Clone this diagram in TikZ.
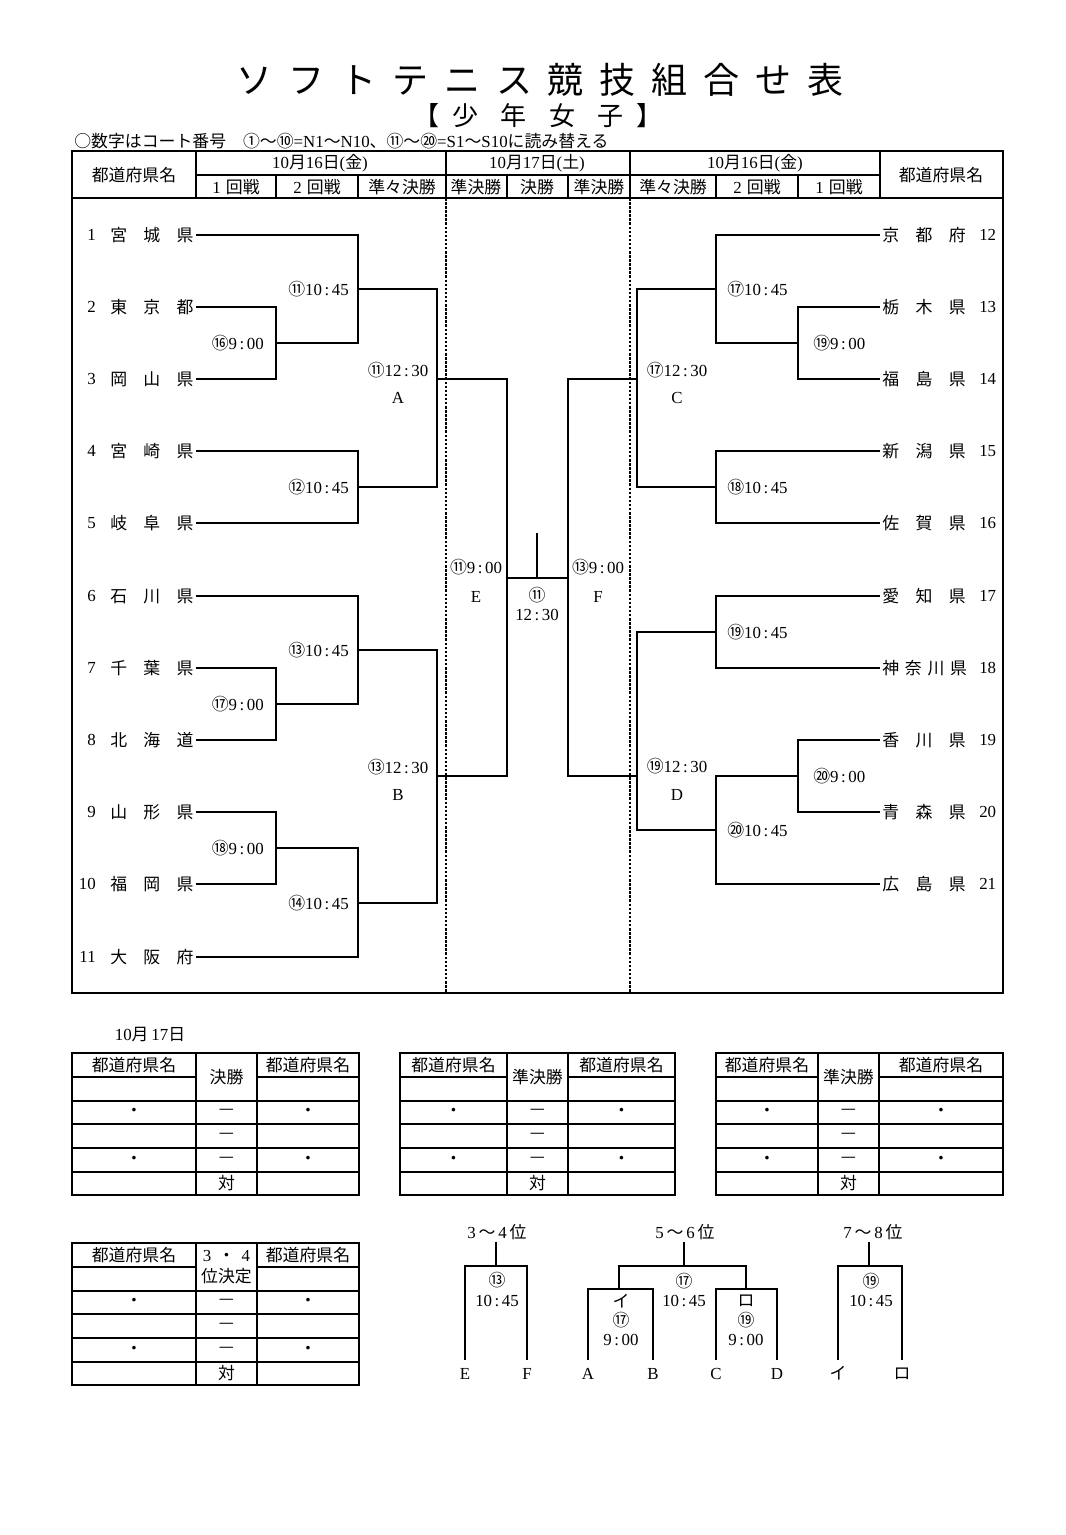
\documentclass[tikz,border=0pt]{standalone}
\usepackage{fontspec}
\setmainfont{Liberation Serif}
\newfontfamily\jp{Noto Sans CJK JP}
\usetikzlibrary{positioning}
\newcommand{\cn}[1]{{\jp #1}}
\newcommand{\hm}[2]{#1\hspace{0.15em}:\hspace{0.15em}#2}
\newcommand{\pname}[3]{{\jp #1\hspace{0.97em}#2\hspace{0.97em}#3}}
\newcommand{\pnamew}[4]{{\jp #1\hspace{0.34em}#2\hspace{0.34em}#3\hspace{0.34em}#4}}
\newcommand{\tg}{\hspace{0.44em}}
\tikzset{
  every node/.append style={font=\fontsize{12}{14}\selectfont, inner sep=0pt},
  brk/.style={line width=1.4pt},
  frm/.style={line width=1.5pt},
  rule/.style={line width=1.1pt},
  dsh/.style={line width=0.9pt, dash pattern=on 1.8pt off 1.1pt},
  team/.style={inner xsep=1.5pt},
  ltr/.style={text height=8pt, text depth=0pt, inner ysep=6pt},
  rank/.style={text height=8pt, text depth=0pt, inner ysep=2pt},
}

\begin{document}
\begin{tikzpicture}[x=0.025cm, y=-0.025cm]
  \path[fill=white] (0,0) rectangle (1066,1535);

  % title
  \node[font=\jp\fontsize{25.6}{27}\selectfont] (title) at (540,80)
    {ソ\tg フ\tg ト\tg テ\tg ニ\tg ス\tg 競\tg 技\tg 組\tg 合\tg せ\tg 表};
  \node[font=\jp\fontsize{18.5}{20}\selectfont] (sub) at (538,116)
    {【\hspace{.5em}少\hspace{.85em}年\hspace{.85em}女\hspace{.85em}子\hspace{.5em}】};
  \node[anchor=west] (note) at (74,141)
    {\cn{○数字はコート番号\hspace{1em}①～⑩}=N1\cn{～}N10\cn{、⑪～⑳}=S1\cn{～}S10\cn{に読み替える}};

  % frame and header
  \draw[frm] (72,151) rectangle (1003,993);
  \draw[frm] (72,198) -- (1003,198);
  \draw[rule] (196,175) -- (880,175);
  \draw[rule] (196,151) -- (196,198) (880,151) -- (880,198);
  \foreach \x in {276,358,507,568,716,798}
    \draw[rule] (\x,175) -- (\x,198);
  \foreach \x in {446,630}{
    \draw[rule] (\x,151) -- (\x,198);
    \draw[dsh] (\x,198) -- (\x,993);
  }
  \node (hdl) at (134,175) {\cn{都道府県名}};
  \node (hdr) at (941,175) {\cn{都道府県名}};
  \node (d1) at (320,163) {10\cn{月}16\cn{日}(\cn{金})};
  \node (d2) at (537,163) {10\cn{月}17\cn{日}(\cn{土})};
  \node (d3) at (755,163) {10\cn{月}16\cn{日}(\cn{金})};
  \foreach \x/\txt in {236/1\hspace{0.3em}\cn{回戦}, 317/2\hspace{0.3em}\cn{回戦},
      402/\cn{準々決勝}, 476/\cn{準決勝}, 537/\cn{決勝}, 599/\cn{準決勝},
      673/\cn{準々決勝}, 757/2\hspace{0.3em}\cn{回戦}, 839/1\hspace{0.3em}\cn{回戦}}
    \node (rd\x) at (\x,187) {\txt};

  % teams
  \foreach \n/\nm/\y in {1/\pname{宮}{城}{県}/235, 2/\pname{東}{京}{都}/307,
      3/\pname{岡}{山}{県}/379, 4/\pname{宮}{崎}{県}/451, 5/\pname{岐}{阜}{県}/523,
      6/\pname{石}{川}{県}/596, 7/\pname{千}{葉}{県}/668, 8/\pname{北}{海}{道}/740,
      9/\pname{山}{形}{県}/812, 10/\pname{福}{岡}{県}/884, 11/\pname{大}{阪}{府}/957}{
    \node[team, anchor=east] (L\n) at (196,\y) {\nm};
    \node[anchor=east] (Ln\n) at (96,\y) {\n};
  }
  \foreach \n/\nm/\y in {12/\pname{京}{都}{府}/235, 13/\pname{栃}{木}{県}/307,
      14/\pname{福}{島}{県}/379, 15/\pname{新}{潟}{県}/451, 16/\pname{佐}{賀}{県}/523,
      17/\pname{愛}{知}{県}/596, 18/\pnamew{神}{奈}{川}{県}/668, 19/\pname{香}{川}{県}/740,
      20/\pname{青}{森}{県}/812, 21/\pname{広}{島}{県}/884}{
    \node[team, anchor=west] (R\n) at (880,\y) {\nm};
    \node[anchor=west] (Rn\n) at (979,\y) {\n};
  }

  % left bracket
  \coordinate (c16) at (276,343);
  \coordinate (c11) at (358,289);
  \coordinate (c12) at (358,487);
  \coordinate (cA) at (437,379);
  \coordinate (c17) at (276,704);
  \coordinate (c13) at (358,650);
  \coordinate (c18) at (276,848);
  \coordinate (c14) at (358,903);
  \coordinate (cB) at (437,776);
  \draw[brk] (L2.east) -| (c16) |- (L3.east);
  \draw[brk] (L1.east) -| (c11) |- (c16);
  \draw[brk] (L4.east) -| (c12) |- (L5.east);
  \draw[brk] (c11) -| (cA) |- (c12);
  \draw[brk] (L7.east) -| (c17) |- (L8.east);
  \draw[brk] (L6.east) -| (c13) |- (c17);
  \draw[brk] (L9.east) -| (c18) |- (L10.east);
  \draw[brk] (c18) -| (c14) |- (L11.east);
  \draw[brk] (c13) -| (cB) |- (c14);

  % right bracket
  \coordinate (e19) at (798,343);
  \coordinate (e17) at (716,289);
  \coordinate (e18) at (716,487);
  \coordinate (cC) at (637,379);
  \coordinate (f19) at (716,632);
  \coordinate (e20) at (798,776);
  \coordinate (f20) at (716,830);
  \coordinate (cD) at (637,776);
  \draw[brk] (R13.west) -| (e19) |- (R14.west);
  \draw[brk] (R12.west) -| (e17) |- (e19);
  \draw[brk] (R15.west) -| (e18) |- (R16.west);
  \draw[brk] (e17) -| (cC) |- (e18);
  \draw[brk] (R17.west) -| (f19) |- (R18.west);
  \draw[brk] (R19.west) -| (e20) |- (R20.west);
  \draw[brk] (e20) -| (f20) |- (R21.west);
  \draw[brk] (f19) -| (cD) |- (f20);

  % semifinals and final
  \coordinate (cE) at (507,578);
  \coordinate (cF) at (568,578);
  \coordinate (fin) at (537,578);
  \coordinate (top) at (537,533);
  \draw[brk] (cA) -| (cE) |- (cB);
  \draw[brk] (cC) -| (cF) |- (cD);
  \draw[brk] (cE) -- (cF);
  \draw[brk] (fin) -- (top);

  % match labels
  \node[anchor=east] (g16) at (264,343) {\cn{⑯}\hm{9}{00}};
  \node[anchor=east] (g11) at (349,289) {\cn{⑪}\hm{10}{45}};
  \node[anchor=east] (g12) at (349,487) {\cn{⑫}\hm{10}{45}};
  \node (gA1) at (398,370) {\cn{⑪}\hm{12}{30}};
  \node (gA) at (398,398) {A};
  \node[anchor=east] (g17) at (264,704) {\cn{⑰}\hm{9}{00}};
  \node[anchor=east] (g13) at (349,650) {\cn{⑬}\hm{10}{45}};
  \node[anchor=east] (g18) at (264,848) {\cn{⑱}\hm{9}{00}};
  \node[anchor=east] (g14) at (349,903) {\cn{⑭}\hm{10}{45}};
  \node (gB1) at (398,767) {\cn{⑬}\hm{12}{30}};
  \node (gB) at (398,795) {B};
  \node (gE1) at (476,567) {\cn{⑪}\hm{9}{00}};
  \node (gE) at (476,597) {E};
  \node (gF1) at (598,567) {\cn{⑬}\hm{9}{00}};
  \node (gF) at (598,597) {F};
  \node (gf1) at (537,595) {\cn{⑪}};
  \node (gf2) at (537,615) {\hm{12}{30}};
  \node[anchor=west] (h17) at (727,289) {\cn{⑰}\hm{10}{45}};
  \node[anchor=west] (h19) at (813,343) {\cn{⑲}\hm{9}{00}};
  \node[anchor=west] (h18) at (727,487) {\cn{⑱}\hm{10}{45}};
  \node (hC1) at (677,370) {\cn{⑰}\hm{12}{30}};
  \node (hC) at (677,398) {C};
  \node[anchor=west] (h19b) at (727,632) {\cn{⑲}\hm{10}{45}};
  \node[anchor=west] (h20) at (813,776) {\cn{⑳}\hm{9}{00}};
  \node[anchor=west] (h20b) at (727,830) {\cn{⑳}\hm{10}{45}};
  \node (hD1) at (677,766) {\cn{⑲}\hm{12}{30}};
  \node (hD) at (677,795) {D};

  % result tables
  \node (day) at (150,1035) {10\cn{月}\,17\cn{日}};
  \foreach \xa/\xb/\xc/\xd/\yo/\lab [count=\k] in {72/196/257/359/0/{\cn{決勝}},
      400/507/568/675/0/{\cn{準決勝}}, 716/818/879/1003/0/{\cn{準決勝}},
      72/196/257/359/190/{3\hspace{0.4em}\cn{・}\hspace{0.4em}4\\\cn{位決定}}}{
    \draw[frm] (\xa,1053+\yo) rectangle (\xd,1195+\yo);
    \draw[rule] (\xa,1077+\yo) -- (\xb,1077+\yo) (\xc,1077+\yo) -- (\xd,1077+\yo);
    \foreach \r in {1101,1124,1148,1172}
      \draw[rule] (\xa,\r+\yo) -- (\xd,\r+\yo);
    \draw[rule] (\xb,1053+\yo) -- (\xb,1195+\yo) (\xc,1053+\yo) -- (\xc,1195+\yo);
    \node (tl\k) at ({(\xa+\xb)/2},1065+\yo) {\cn{都道府県名}};
    \node (tr\k) at ({(\xc+\xd)/2},1065+\yo) {\cn{都道府県名}};
    \node[align=center, font=\fontsize{12}{15}\selectfont] (tm\k)
      at ({(\xb+\xc)/2},1077+\yo) {\lab};
    \foreach \r in {1112,1160}{
      \node (dl\k\r) at ({(\xa+\xb)/2},\r+\yo) {\cn{・}};
      \node (dr\k\r) at ({(\xc+\xd)/2},\r+\yo) {\cn{・}};
    }
    \foreach \r in {1112,1136,1160}
      \node (dm\k\r) at ({(\xb+\xc)/2},\r+\yo) {\cn{—}};
    \node (vs\k) at ({(\xb+\xc)/2},1183+\yo) {\cn{対}};
  }

  % placing brackets
  \node[rank] (r34) at (497,1233) {3\,\cn{～}\,4\,\cn{位}};
  \node[rank] (r56) at (685,1233) {5\,\cn{～}\,6\,\cn{位}};
  \node[rank] (r78) at (873,1233) {7\,\cn{～}\,8\,\cn{位}};
  \node[ltr] (pE) at (465,1374) {E};
  \node[ltr] (pF) at (527,1374) {F};
  \node[ltr] (pA) at (588,1374) {A};
  \node[ltr] (pB) at (653,1374) {B};
  \node[ltr] (pC) at (716,1374) {C};
  \node[ltr] (pD) at (777,1374) {D};
  \node[ltr] (pI) at (838,1374) {\cn{イ}};
  \node[ltr] (pR) at (902,1374) {\cn{ロ}};
  \coordinate (j34) at (496,1266);
  \coordinate (j56) at (684,1266);
  \coordinate (jI) at (619,1289);
  \coordinate (jR) at (746,1289);
  \coordinate (j78) at (869,1266);
  \draw[brk] (j34 |- r34.south) -- (j34);
  \draw[brk] (pE.north) |- (j34) -| (pF.north);
  \draw[brk] (j56 |- r56.south) -- (j56);
  \draw[brk] (jI) |- (j56) -| (jR);
  \draw[brk] (pA.north) |- (jI) -| (pB.north);
  \draw[brk] (pC.north) |- (jR) -| (pD.north);
  \draw[brk] (j78 |- r78.south) -- (j78);
  \draw[brk] (pI.north) |- (j78) -| (pR.north);
  \node (k34a) at (497,1280) {\cn{⑬}};
  \node (k34b) at (497,1301) {\hm{10}{45}};
  \node (k56a) at (684,1281) {\cn{⑰}};
  \node (k56b) at (684,1301) {\hm{10}{45}};
  \node (kIa) at (621,1301) {\cn{イ}};
  \node (kIb) at (621,1320) {\cn{⑰}};
  \node (kIc) at (621,1340) {\hm{9}{00}};
  \node (kRa) at (746,1301) {\cn{ロ}};
  \node (kRb) at (746,1320) {\cn{⑲}};
  \node (kRc) at (746,1340) {\hm{9}{00}};
  \node (k78a) at (871,1281) {\cn{⑲}};
  \node (k78b) at (871,1301) {\hm{10}{45}};
\end{tikzpicture}
\end{document}
